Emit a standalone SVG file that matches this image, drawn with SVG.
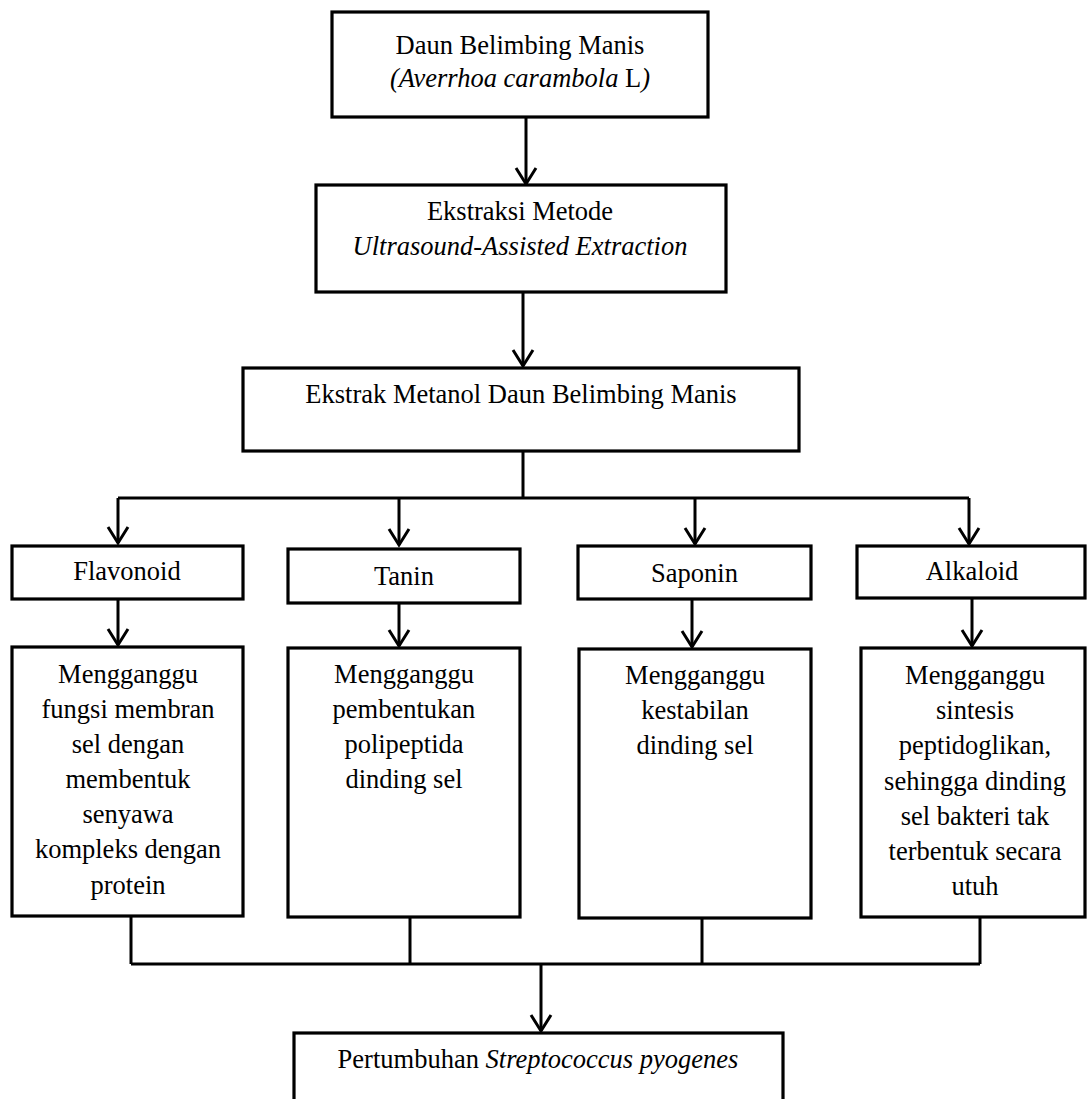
<svg xmlns="http://www.w3.org/2000/svg" width="1087" height="1099" viewBox="0 0 1087 1099">
<defs>
<marker id="arr" markerUnits="userSpaceOnUse" markerWidth="40" markerHeight="40" viewBox="-20 -20 40 40" refX="0" refY="0" orient="auto">
<path d="M-16,-10 L0,0 L-16,10" fill="none" stroke="#000" stroke-width="3" stroke-linejoin="miter"/>
</marker>
</defs>
<style>
rect{fill:#fff;stroke:#000;stroke-width:3.2}
text{font-family:"Liberation Serif","Times New Roman",serif;font-size:26.5px;fill:#000;text-anchor:middle}
.i{font-style:italic}
.c{fill:none;stroke:#000;stroke-width:3}
.a{marker-end:url(#arr)}
</style>
<rect width="1087" height="1099" style="fill:#fff;stroke:none"/>
<g id="connectors">
<path class="c a" d="M526,118 V184"/>
<path class="c a" d="M523,292 V366"/>
<path class="c" d="M523,451 V498 M118,498 H969"/>
<path class="c a" d="M118,498 V543"/>
<path class="c a" d="M399,498 V545"/>
<path class="c a" d="M695,498 V544"/>
<path class="c a" d="M969,498 V544"/>
<path class="c a" d="M118,599 V645"/>
<path class="c a" d="M399,603 V646"/>
<path class="c a" d="M692,599 V647"/>
<path class="c a" d="M972,598 V646"/>
<path class="c" d="M131,916 V964 M410,917 V964 M702,918 V964 M980,917 V964 M131,964 H980"/>
<path class="c a" d="M541,964 V1031"/>
</g>
<g id="n-daun">
<rect x="332" y="12" width="376" height="105"/>
<text x="520" y="54">Daun Belimbing Manis</text>
<text x="520" y="87"><tspan class="i">(Averrhoa carambola</tspan> L<tspan class="i">)</tspan></text>
</g>
<g id="n-ekstraksi">
<rect x="316" y="185" width="410" height="107"/>
<text x="520" y="220">Ekstraksi Metode</text>
<text x="520" y="255" class="i">Ultrasound-Assisted Extraction</text>
</g>
<g id="n-ekstrak">
<rect x="243" y="368" width="556" height="83"/>
<text x="521" y="403">Ekstrak Metanol Daun Belimbing Manis</text>
</g>
<g id="n-flavonoid">
<rect x="12" y="546" width="231" height="53"/>
<text x="127" y="580">Flavonoid</text>
</g>
<g id="n-tanin">
<rect x="288" y="549" width="232" height="54"/>
<text x="404" y="585">Tanin</text>
</g>
<g id="n-saponin">
<rect x="578" y="546" width="233" height="53"/>
<text x="694.5" y="582">Saponin</text>
</g>
<g id="n-alkaloid">
<rect x="857" y="546" width="228" height="52"/>
<text x="972" y="580">Alkaloid</text>
</g>
<g id="n-flav-mek">
<rect x="12" y="647" width="231" height="269"/>
<text x="128" y="683">Mengganggu</text>
<text x="128" y="718">fungsi membran</text>
<text x="128" y="753">sel dengan</text>
<text x="128" y="788">membentuk</text>
<text x="128" y="823">senyawa</text>
<text x="128" y="858">kompleks dengan</text>
<text x="128" y="894">protein</text>
</g>
<g id="n-tanin-mek">
<rect x="288" y="648" width="232" height="269"/>
<text x="404" y="683">Mengganggu</text>
<text x="404" y="718">pembentukan</text>
<text x="404" y="753">polipeptida</text>
<text x="404" y="788">dinding sel</text>
</g>
<g id="n-saponin-mek">
<rect x="579" y="649" width="232" height="269"/>
<text x="695" y="684">Mengganggu</text>
<text x="695" y="719">kestabilan</text>
<text x="695" y="754">dinding sel</text>
</g>
<g id="n-alkaloid-mek">
<rect x="861" y="648" width="224" height="269"/>
<text x="975" y="684">Mengganggu</text>
<text x="975" y="719">sintesis</text>
<text x="975" y="754">peptidoglikan,</text>
<text x="975" y="790">sehingga dinding</text>
<text x="975" y="825">sel bakteri tak</text>
<text x="975" y="860">terbentuk secara</text>
<text x="975" y="895">utuh</text>
</g>
<g id="n-pertumbuhan">
<rect x="294" y="1033" width="489" height="90"/>
<text x="538" y="1068">Pertumbuhan <tspan class="i">Streptococcus pyogenes</tspan></text>
</g>
</svg>
